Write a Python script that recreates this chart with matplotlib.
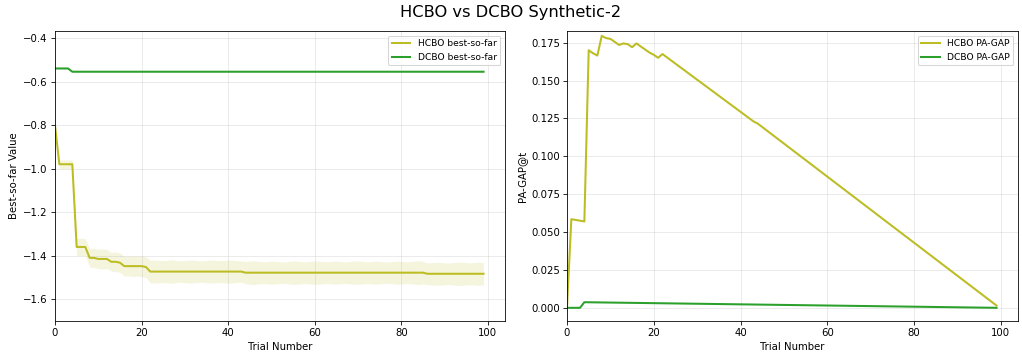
import numpy as np
import matplotlib
matplotlib.use('Agg')
import matplotlib.pyplot as plt

# best-so-far (mean and spread across seeds), trials 0..99
trials = np.arange(100)
hcbo_best = ([-0.80] + [-0.98] * 4 + [-1.36] * 3 + [-1.41] * 2 + [-1.415] * 3
             + [-1.428] * 2 + [-1.432] + [-1.448] * 5 + [-1.452] + [-1.473] * 22
             + [-1.478] * 42 + [-1.483] * 14)
hcbo_std = [0.0, 0.02, 0.02, 0.02, 0.02, 0.04, 0.04, 0.038,
            0.042, 0.044, 0.045, 0.046, 0.044, 0.043, 0.045, 0.044, 0.046, 0.045,
            0.047, 0.046, 0.048, 0.047,
            0.052, 0.053, 0.051, 0.050, 0.052, 0.054, 0.051, 0.049, 0.051, 0.053,
            0.052, 0.050, 0.049, 0.051, 0.053, 0.052, 0.050, 0.051, 0.054, 0.052,
            0.050, 0.049, 0.051, 0.053, 0.055, 0.052, 0.050, 0.051, 0.053, 0.052,
            0.050, 0.049, 0.052, 0.054, 0.053, 0.051, 0.050, 0.052, 0.054, 0.052,
            0.051, 0.050, 0.052, 0.053, 0.051, 0.049, 0.051, 0.053, 0.054, 0.052,
            0.050, 0.051, 0.053, 0.052, 0.050, 0.049, 0.051, 0.053, 0.052, 0.050,
            0.051, 0.053, 0.055, 0.052, 0.050, 0.051, 0.053, 0.052, 0.050, 0.049,
            0.051, 0.054, 0.053, 0.051, 0.050, 0.052, 0.053, 0.051]
dcbo_best = [-0.540] * 4 + [-0.555] * 96
dcbo_std = [0.003] * 100

# PA-GAP@t (vertices of the piecewise-linear curves)
hcbo_gap_t = [0, 1, 2, 3, 4, 5, 6, 7, 8, 9, 10, 11, 12, 13, 14, 15, 16, 17,
              18, 19, 20, 21, 22, 43, 44, 99]
hcbo_gap = [0.0, 0.0585, 0.058, 0.0575, 0.057, 0.170, 0.168, 0.1665, 0.1795,
            0.178, 0.1775, 0.1755, 0.1735, 0.1745, 0.1740, 0.1720, 0.1745,
            0.1725, 0.1705, 0.1685, 0.1670, 0.1650, 0.1675, 0.1230, 0.1215, 0.0015]
dcbo_gap_t = [0, 3, 4, 99]
dcbo_gap = [0.0, 0.0, 0.0037, 0.0]

c_hcbo = '#bcbd22'
c_dcbo = '#2ca02c'

fig = plt.figure(figsize=(14, 356 / 73))
ax1 = fig.add_axes([55 / 1022, 1 - 321 / 356, 450 / 1022, 290 / 356])
ax2 = fig.add_axes([567 / 1022, 1 - 321 / 356, 451 / 1022, 290 / 356])

hb = np.array(hcbo_best)
hs = np.array(hcbo_std)
db = np.array(dcbo_best)
ds = np.array(dcbo_std)

ax1.plot(trials, hb, color=c_hcbo, lw=2, label='HCBO best-so-far')
ax1.fill_between(trials, hb - hs, hb + hs, color=c_hcbo, alpha=0.15, lw=0)
ax1.plot(trials, db, color=c_dcbo, lw=2, label='DCBO best-so-far')
ax1.fill_between(trials, db - ds, db + ds, color=c_dcbo, alpha=0.15, lw=0)
ax1.set_xlim(0, 103.95)
ax1.set_ylim(-1.70, -0.368)
ax1.set_xlabel('Trial Number')
ax1.set_ylabel('Best-so-far Value')
ax1.grid(True, alpha=0.3)
ax1.legend(loc='upper right', fontsize=9)

ax2.plot(hcbo_gap_t, hcbo_gap, color=c_hcbo, lw=2, label='HCBO PA-GAP')
ax2.plot(dcbo_gap_t, dcbo_gap, color=c_dcbo, lw=2, label='DCBO PA-GAP')
ax2.set_xlim(0, 103.95)
ax2.set_ylim(-0.0087, 0.1827)
ax2.set_xlabel('Trial Number')
ax2.set_ylabel('PA-GAP@t')
ax2.grid(True, alpha=0.3)
ax2.legend(loc='upper right', fontsize=9)

fig.suptitle('HCBO vs DCBO Synthetic-2', fontsize=16, y=0.985)

fig.savefig('out.png', dpi=73)
